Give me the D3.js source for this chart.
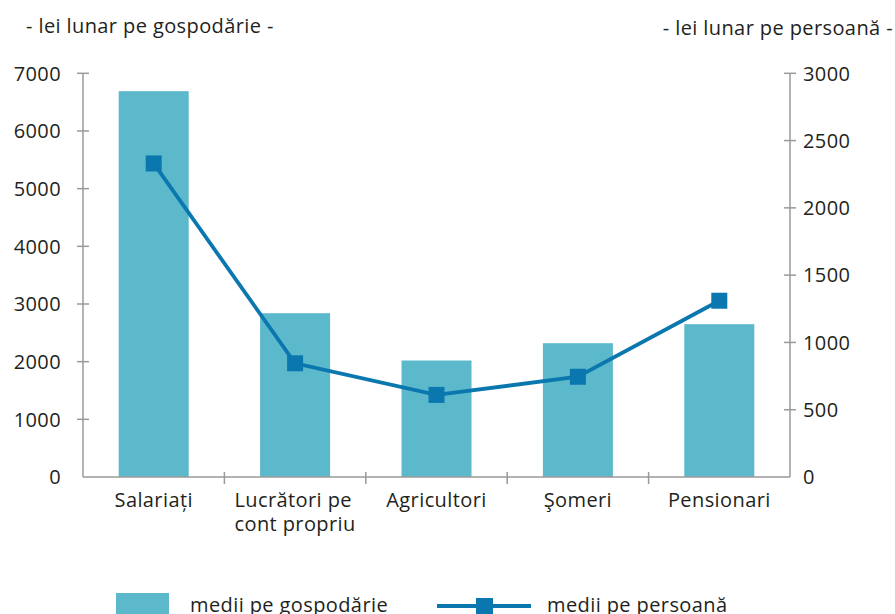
<!DOCTYPE html>
<html>
<head>
<meta charset="utf-8">
<script src="https://cdn.jsdelivr.net/npm/d3@7"></script>
<style>
  body { margin: 0; background: #fff; }
  svg text { font-family: "Open Sans", sans-serif; fill: #231f20; font-size: 20px; letter-spacing: 0.4px; }
</style>
</head>
<body>
<svg id="chart" width="895" height="614"></svg>
<script>
var categories = ["Salariați", "Lucrători pe\ncont propriu", "Agricultori", "Şomeri", "Pensionari"];
var perHousehold = [6690, 2840, 2020, 2320, 2650];   // bars, left axis
var perPerson = [2330, 845, 610, 745, 1310];          // line, right axis
var leftTicks = [0, 1000, 2000, 3000, 4000, 5000, 6000, 7000];
var rightTicks = [0, 500, 1000, 1500, 2000, 2500, 3000];
var leftTitle = "- lei lunar pe gospodărie -";
var rightTitle = "- lei lunar pe persoană -";
var legendLabels = ["medii pe gospodărie", "medii pe persoană"];

var barColor = "#5cb9cc", lineColor = "#0b77af", axisColor = "#9a9a9a";
var plotLeft = 83, plotRight = 790, plotTop = 73.3, plotBottom = 477;

var svg = d3.select("#chart");

var x = d3.scaleBand().domain(d3.range(categories.length)).range([plotLeft, plotRight]).padding(0);
var yL = d3.scaleLinear().domain([0, 7000]).range([plotBottom, plotTop]);
var yR = d3.scaleLinear().domain([0, 3000]).range([plotBottom, plotTop]);

// bars
svg.append("g").selectAll("rect").data(perHousehold).join("rect")
  .attr("x", function(d, i) { return x(i) + x.bandwidth() / 2 - 35; })
  .attr("width", 70)
  .attr("y", function(d) { return yL(d); })
  .attr("height", function(d) { return plotBottom - yL(d); })
  .attr("fill", barColor);

// axes (drawn by hand so ticks cross the line like the original)
function axisLine(x1, y1, x2, y2) {
  svg.append("line").attr("x1", x1).attr("y1", y1).attr("x2", x2).attr("y2", y2)
    .attr("stroke", axisColor).attr("stroke-width", 1.5);
}
axisLine(plotLeft, plotTop, plotLeft, plotBottom);
axisLine(plotRight, plotTop, plotRight, plotBottom);
axisLine(plotLeft, plotBottom, plotRight, plotBottom);

leftTicks.forEach(function(t) {
  if (t > 0) axisLine(plotLeft - 6, yL(t), plotLeft + 6, yL(t));
  svg.append("text").attr("x", 61).attr("y", yL(t)).attr("dy", "0.36em")
    .attr("text-anchor", "end").text(t);
});
rightTicks.forEach(function(t) {
  if (t > 0) axisLine(plotRight - 6, yR(t), plotRight + 6, yR(t));
  svg.append("text").attr("x", 803).attr("y", yR(t)).attr("dy", "0.36em")
    .attr("text-anchor", "start").text(t);
});
d3.range(1, categories.length).forEach(function(i) {
  axisLine(x(i), plotBottom - 5, x(i), plotBottom + 7);
});

// category labels: lines left-aligned, block centred on band
categories.forEach(function(c, i) {
  var lines = c.split("\n");
  var t = svg.append("text");
  lines.forEach(function(l, j) {
    t.append("tspan").attr("x", 0).attr("y", 507 + j * 24).text(l);
  });
  var w = t.node().getBBox().width;
  t.selectAll("tspan").attr("x", x(i) + x.bandwidth() / 2 - w / 2);
});

// titles
svg.append("text").attr("x", 26).attr("y", 33).text(leftTitle);
svg.append("text").attr("x", 893).attr("y", 35).attr("text-anchor", "end").text(rightTitle);

// line + markers
var line = d3.line()
  .x(function(d, i) { return x(i) + x.bandwidth() / 2; })
  .y(function(d) { return yR(d); });
svg.append("path").datum(perPerson).attr("d", line)
  .attr("fill", "none").attr("stroke", lineColor).attr("stroke-width", 3.8);
svg.append("g").selectAll("rect").data(perPerson).join("rect")
  .attr("x", function(d, i) { return x(i) + x.bandwidth() / 2 - 8; })
  .attr("y", function(d) { return yR(d) - 8; })
  .attr("width", 16).attr("height", 16).attr("fill", lineColor);

// legend
svg.append("rect").attr("x", 116).attr("y", 593).attr("width", 53).attr("height", 30).attr("fill", barColor);
svg.append("text").attr("x", 190).attr("y", 612).text(legendLabels[0]);
svg.append("line").attr("x1", 437).attr("x2", 531).attr("y1", 606).attr("y2", 606)
  .attr("stroke", lineColor).attr("stroke-width", 3.8);
svg.append("rect").attr("x", 476).attr("y", 598).attr("width", 17).attr("height", 17).attr("fill", lineColor);
svg.append("text").attr("x", 547).attr("y", 612).text(legendLabels[1]);
</script>
</body>
</html>
